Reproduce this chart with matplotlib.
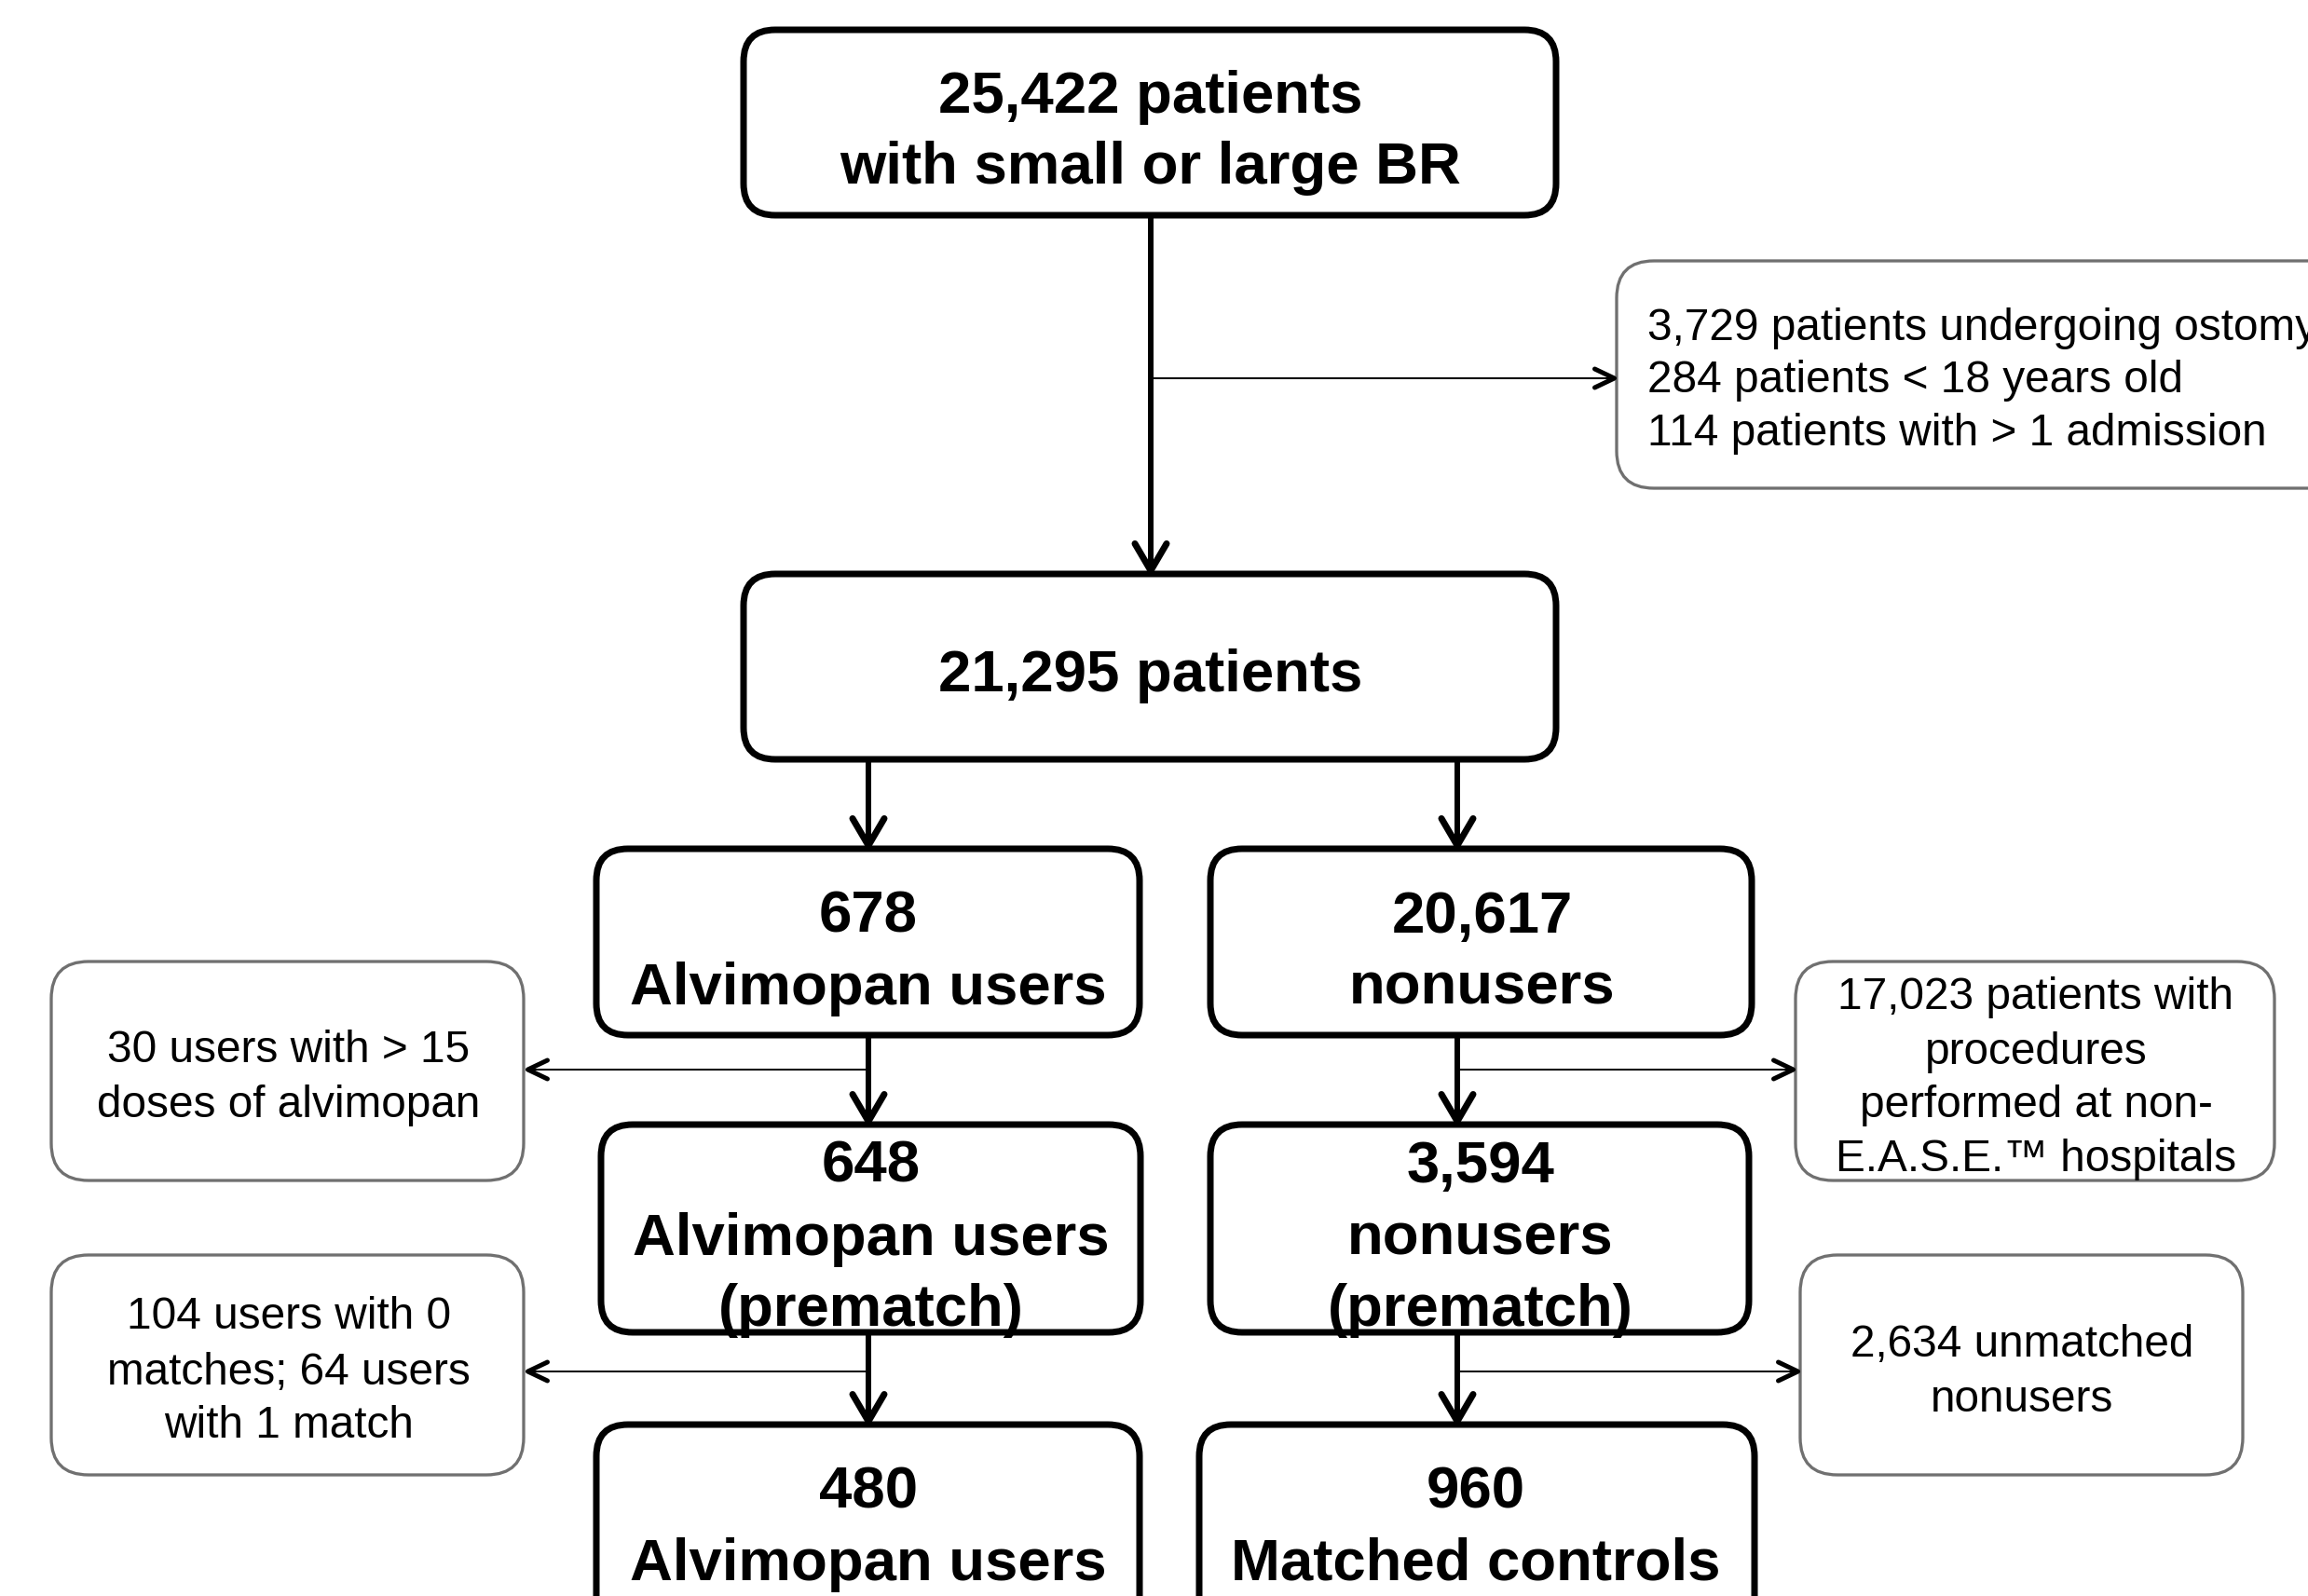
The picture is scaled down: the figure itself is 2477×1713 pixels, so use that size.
import matplotlib
matplotlib.use("Agg")
import matplotlib.pyplot as plt
from matplotlib.patches import FancyBboxPatch
from matplotlib.lines import Line2D
import numpy as np

# ---- flowchart content ----
top_lines = ["25,422 patients", "with small or large BR"]
mid_lines = ["21,295 patients"]
users_lines = ["678", "Alvimopan users"]
nonusers_lines = ["20,617", "nonusers"]
users_pre_lines = ["648", "Alvimopan users", "(prematch)"]
nonusers_pre_lines = ["3,594", "nonusers", "(prematch)"]
users_final_lines = ["480", "Alvimopan users"]
controls_lines = ["960", "Matched controls"]

excl_top = ["3,729 patients undergoing ostomy", "284 patients < 18 years old",
            "114 patients with > 1 admission"]
excl_users_dose = ["30 users with > 15", "doses of alvimopan"]
excl_nonease = ["17,023 patients with", "procedures", "performed at non-",
                "E.A.S.E.\u2122 hospitals"]
excl_users_match = ["104 users with 0", "matches; 64 users", "with 1 match"]
excl_unmatched = ["2,634 unmatched", "nonusers"]

W, H = 2477, 1713
DPI = 100
fig = plt.figure(figsize=(W / DPI, H / DPI), dpi=DPI)
ax = fig.add_axes([0, 0, 1, 1])
ax.set_xlim(0, W)
ax.set_ylim(H, 0)
ax.axis("off")

FONT = ["Liberation Sans", "DejaVu Sans"]
BOLD_PT = 45.7
REG_PT = 34.4
BOLD_CAP_HALF = 0.716 * BOLD_PT * DPI / 72 / 2
REG_CAP_HALF = 0.716 * REG_PT * DPI / 72 / 2


def px2pt(p):
    return p * 72 / DPI


def main_box(x0, y0, x1, y1):
    p = FancyBboxPatch((x0, y0), x1 - x0, y1 - y0,
                       boxstyle="round,pad=0,rounding_size=34",
                       fc="white", ec="black", lw=px2pt(7), zorder=2)
    ax.add_patch(p)


def side_box(x0, y0, x1, y1):
    p = FancyBboxPatch((x0, y0), x1 - x0, y1 - y0,
                       boxstyle="round,pad=0,rounding_size=40",
                       fc="white", ec="#707070", lw=px2pt(3.3), zorder=2)
    ax.add_patch(p)


def lines_text(lines, x, ys, bold, ha="center"):
    for s, y in zip(lines, ys):
        if bold:
            ax.text(x, y + BOLD_CAP_HALF, s, ha=ha, va="baseline",
                    fontsize=BOLD_PT, fontweight="bold", family=FONT, zorder=5)
        else:
            ax.text(x, y + REG_CAP_HALF, s, ha=ha, va="baseline",
                    fontsize=REG_PT, family=FONT, zorder=5)


def arrow(x0, y0, x1, y1, lw_shaft, head_len, head_half, lw_head):
    ax.add_line(Line2D([x0, x1], [y0, y1], color="black", lw=px2pt(lw_shaft),
                       solid_capstyle="butt", zorder=3))
    d = np.array([x1 - x0, y1 - y0], float)
    d /= np.hypot(*d)
    n = np.array([-d[1], d[0]])
    tip = np.array([x1, y1]) - d * (lw_head * 0.5)
    a = tip - d * head_len + n * head_half
    b = tip - d * head_len - n * head_half
    ax.add_line(Line2D([a[0], tip[0], b[0]], [a[1], tip[1], b[1]], color="black",
                       lw=px2pt(lw_head), solid_capstyle="round",
                       solid_joinstyle="round", zorder=3))


def thick_arrow(x, y0, y1):
    arrow(x, y0, x, y1, 6, 29, 17, 7)


def thin_arrow(x0, y, x1):
    arrow(x0, y, x1, y, 2, 21, 10, 5)


# ---- main column boxes ----
main_box(798, 32, 1670, 231)
lines_text(top_lines, 1235, [98, 174], True)

main_box(798, 616, 1670, 815)
lines_text(mid_lines, 1235, [719], True)

main_box(640, 911, 1223, 1111)
lines_text(users_lines, 932, [978, 1055], True)
main_box(1299, 911, 1880, 1111)
lines_text(nonusers_lines, 1591, [978, 1055], True)

main_box(645, 1207, 1224, 1430)
lines_text(users_pre_lines, 935, [1246, 1324, 1400], True)
main_box(1299, 1207, 1877, 1430)
lines_text(nonusers_pre_lines, 1589, [1246, 1324, 1400], True)

main_box(640, 1529, 1223, 1770)
lines_text(users_final_lines, 932, [1596, 1673], True)
main_box(1287, 1529, 1883, 1770)
lines_text(controls_lines, 1584, [1596, 1673], True)

# ---- exclusion boxes ----
side_box(1735, 280, 2620, 524)
lines_text(excl_top, 1768, [348, 404, 461], False, ha="left")

side_box(55, 1032, 562, 1267)
lines_text(excl_users_dose, 310, [1123, 1182], False)

side_box(1927, 1032, 2441, 1267)
lines_text(excl_nonease, 2185, [1066, 1125, 1182, 1240], False)

side_box(55, 1347, 562, 1583)
lines_text(excl_users_match, 310, [1409, 1469, 1526], False)

side_box(1932, 1347, 2407, 1583)
lines_text(excl_unmatched, 2170, [1439, 1498], False)

# ---- arrows ----
thick_arrow(1235, 231, 616)
thin_arrow(1235, 406, 1735)

thick_arrow(932, 815, 911)
thick_arrow(1564, 815, 911)

thick_arrow(932, 1111, 1207)
thin_arrow(932, 1148, 564)
thick_arrow(1564, 1111, 1207)
thin_arrow(1564, 1148, 1927)

thick_arrow(932, 1430, 1529)
thin_arrow(932, 1472, 564)
thick_arrow(1564, 1430, 1529)
thin_arrow(1564, 1472, 1932)

fig.savefig("out.png", dpi=DPI, facecolor="white")
